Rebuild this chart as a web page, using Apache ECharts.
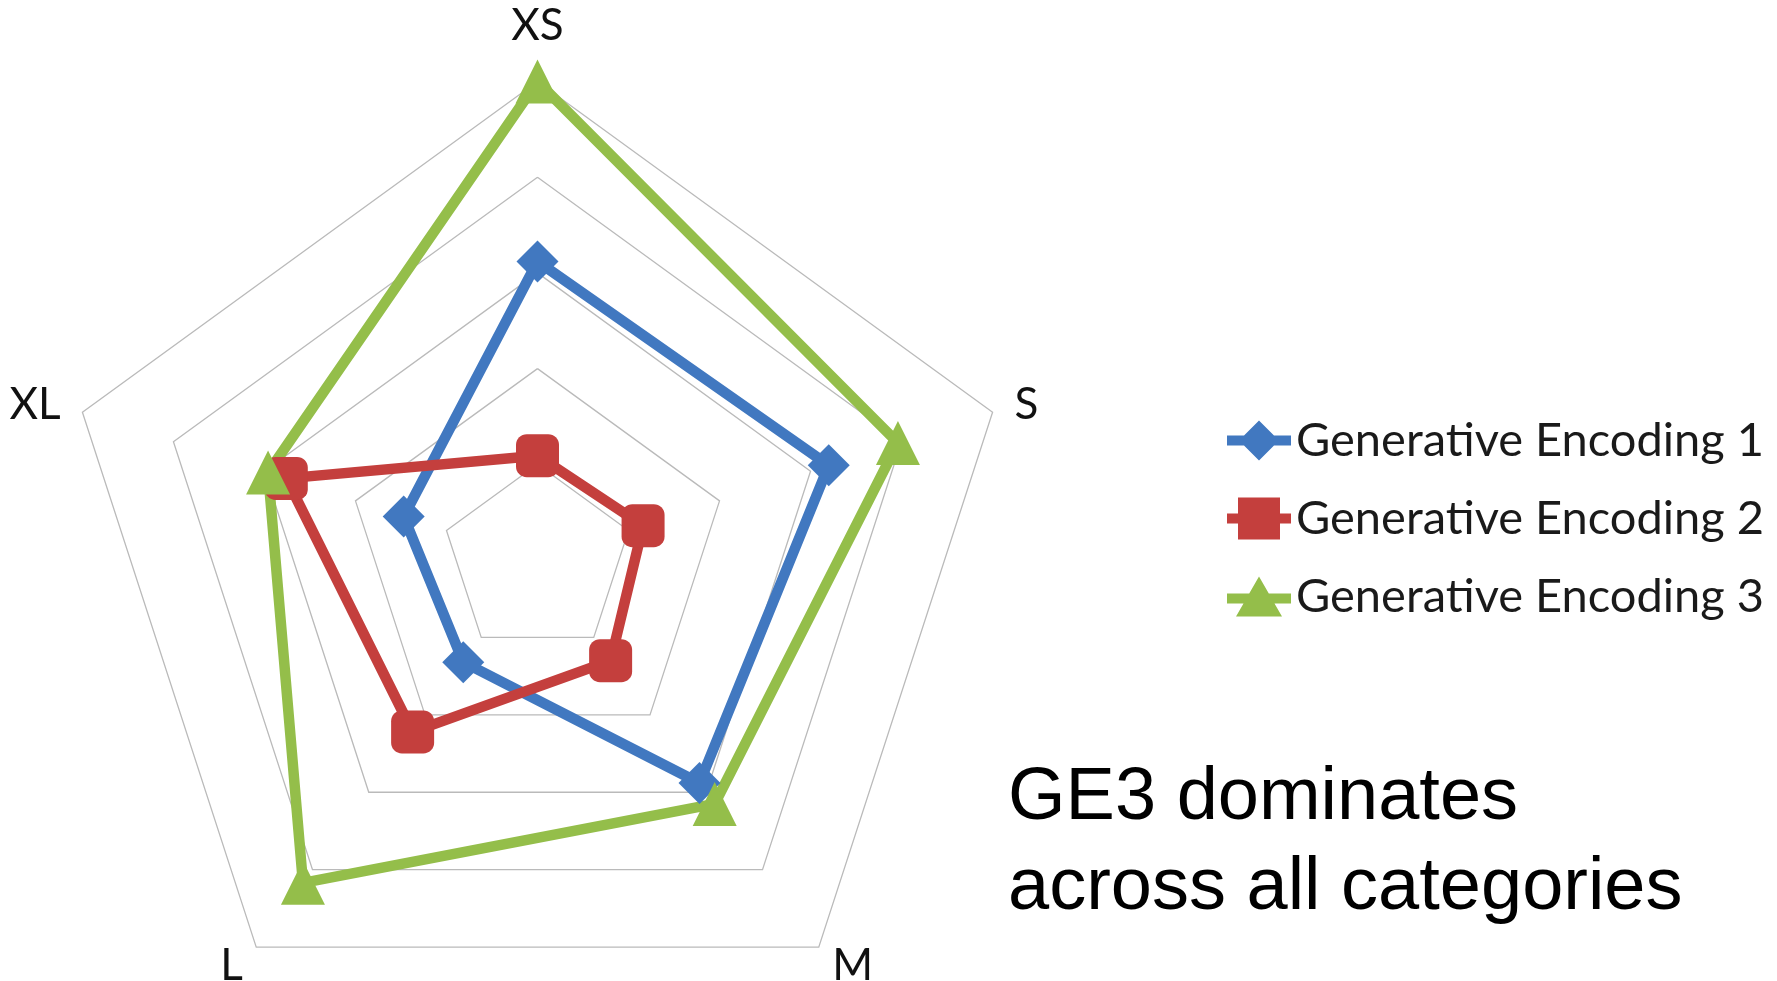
<!DOCTYPE html>
<html>
<head>
<meta charset="utf-8">
<title>Generative Encoding radar</title>
<script src="https://cdn.jsdelivr.net/npm/echarts@6/dist/echarts.min.js"></script>
<style>
  html, body { margin: 0; padding: 0; background: #fff; }
  #chartRadar { width: 1777px; height: 981px; }
</style>
</head>
<body>
<div id="chartRadar"></div>
<script>
// categories clockwise from the top
const categories = ['XS', 'S', 'M', 'L', 'XL'];
const seriesNames = ['Generative Encoding 1', 'Generative Encoding 2', 'Generative Encoding 3'];
const ge1 = [3.12, 3.2, 2.88, 1.32, 1.47];
const ge2 = [1.09, 1.16, 1.3, 2.22, 2.76];
const ge3 = [5.0, 3.96, 3.15, 4.17, 2.96];
const axisMax = 5;
const note = 'GE3 dominates\nacross all categories';

const colors = ['#4178c0', '#c43f3d', '#94be4a'];

// echarts lays indicators out counter-clockwise, so walk them XS, XL, L, M, S
const order = [0, 4, 3, 2, 1];
const reorder = arr => order.map(i => arr[i]);

// legend icons: line stub with the marker on top
const iconDiamond = 'path://M0,15 L17,15 L32,0 L47,15 L64,15 L64,25 L47,25 L32,40 L17,25 L0,25 Z';
const iconSquare = 'path://M0,16 L11,16 L11,0 L53,0 L53,16 L64,16 L64,26 L53,26 L53,42 L11,42 L11,26 L0,26 Z';
const iconTriangle = 'path://M0,17 L22.2,17 L32,0 L41.8,17 L64,17 L64,27 L47.5,27 L55,40 L9,40 L16.5,27 L0,27 Z';

let myChart = echarts.init(document.getElementById('chartRadar'));
let option = {
  animation: false,
  color: colors,
  legend: {
    orient: 'vertical',
    left: 1222,
    top: 412,
    itemWidth: 64,
    itemHeight: 42,
    itemGap: 31,
    textStyle: {
      color: '#1a1a1a',
      fontSize: 47,
      fontFamily: 'Lato'
    },
    data: [
      { name: seriesNames[0], icon: iconDiamond },
      { name: seriesNames[1], icon: iconSquare },
      { name: seriesNames[2], icon: iconTriangle }
    ]
  },
  radar: {
    center: [537.5, 560],
    radius: 478.5,
    startAngle: 90,
    splitNumber: 5,
    shape: 'polygon',
    nameGap: 23,
    axisName: {
      color: '#111',
      fontSize: 44,
      fontFamily: 'Lato',
      // the top label sits a little higher than the others
      formatter: name => name === categories[0] ? '{top|' + name + '}' : name,
      rich: {
        top: { color: '#111', fontSize: 44, fontFamily: 'Lato', padding: [0, 0, 11, 0] }
      }
    },
    axisLine: { show: false },
    axisTick: { show: false },
    axisLabel: { show: false },
    splitArea: { show: false },
    splitLine: {
      lineStyle: { color: '#bababa', width: 1.3 }
    },
    indicator: reorder(categories).map(name => ({ name: name, min: 0, max: axisMax }))
  },
  series: [
    {
      type: 'radar',
      data: [
        {
          name: seriesNames[0],
          value: reorder(ge1),
          symbol: 'diamond',
          symbolSize: 42,
          lineStyle: { width: 10.5, color: colors[0] },
          itemStyle: { color: colors[0] }
        },
        {
          name: seriesNames[1],
          value: reorder(ge2),
          symbol: 'roundRect',
          symbolSize: 43,
          lineStyle: { width: 10.5, color: colors[1] },
          itemStyle: { color: colors[1] }
        },
        {
          name: seriesNames[2],
          value: reorder(ge3),
          symbol: 'triangle',
          symbolSize: 44,
          lineStyle: { width: 10.5, color: colors[2] },
          itemStyle: { color: colors[2] }
        }
      ]
    }
  ],
  graphic: [
    {
      type: 'text',
      left: 1008,
      top: 754,
      style: {
        text: note,
        fill: '#000',
        font: '74px "Liberation Sans", Arial, sans-serif',
        lineHeight: 90
      }
    }
  ]
};
myChart.setOption(option);
</script>
</body>
</html>
